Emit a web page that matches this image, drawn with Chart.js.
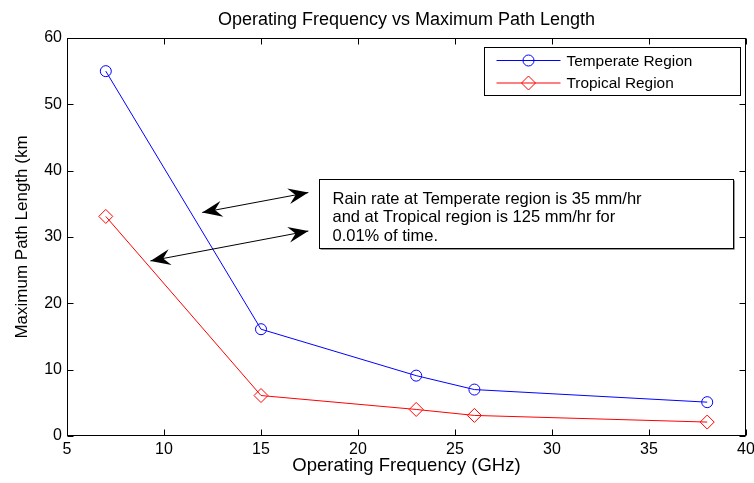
<!DOCTYPE html>
<html>
<head>
<meta charset="utf-8">
<script src="https://cdn.jsdelivr.net/npm/chart.js@4"></script>
<style>
  html, body { margin: 0; padding: 0; background: #fff; }
  #wrap { width: 754px; height: 483px; }
</style>
</head>
<body>
<div id="wrap"><canvas id="chart" width="754" height="483"></canvas></div>
<script>
// chart values
const frequencies = [7, 15, 23, 26, 38];
const temperate = [55, 16.1, 9.1, 7, 5.1];
const tropical = [33.1, 6.1, 4, 3.1, 2.1];
const xTicks = [5, 10, 15, 20, 25, 30, 35, 40];
const yTicks = [0, 10, 20, 30, 40, 50, 60];
const seriesNames = ["Temperate Region", "Tropical Region"];
const seriesColors = ["#0000ff", "#ff0000"];
const noteLines = [
  "Rain rate at Temperate region is 35 mm/hr",
  "and at Tropical region is 125 mm/hr for",
  "0.01% of time."
];
// annotation anchors, in axis units
const noteBox = { x1: 17.97, y1: 38.7, x2: 39.29, y2: 28.3 };
const arrows = [
  { x1: 11.97, y1: 33.7, x2: 17.44, y2: 36.7 },
  { x1: 9.30, y1: 26.4, x2: 17.44, y2: 30.9 }
];

const FONT = "'Liberation Sans', Arial, Helvetica, sans-serif";

function toPoints(xs, ys) {
  return xs.map((x, i) => ({ x: x, y: ys[i] }));
}

function arrowHead(ctx, tx, ty, fx, fy) {
  // tip at (tx,ty), pointing away from (fx,fy)
  const ang = Math.atan2(ty - fy, tx - fx);
  const len = 20, half = 8, notch = 13;
  const c = Math.cos(ang), s = Math.sin(ang);
  ctx.beginPath();
  ctx.moveTo(tx, ty);
  ctx.lineTo(tx - len * c + half * s, ty - len * s - half * c);
  ctx.lineTo(tx - notch * c, ty - notch * s);
  ctx.lineTo(tx - len * c - half * s, ty - len * s + half * c);
  ctx.closePath();
  ctx.fill();
}

const decorPlugin = {
  id: "decor",
  afterDraw(chart) {
    const ctx = chart.ctx;
    const a = chart.chartArea;
    const xs = chart.scales.x, ys = chart.scales.y;
    const L = Math.round(a.left) + 0.5, R = Math.round(a.right) - 0.5;
    const T = Math.round(a.top) + 0.5, B = Math.round(a.bottom) - 0.5;
    ctx.save();

    // frame + inward ticks
    ctx.strokeStyle = "#000";
    ctx.lineWidth = 1;
    ctx.strokeRect(L, T, R - L, B - T);
    ctx.beginPath();
    xTicks.forEach(v => {
      const px = Math.round(xs.getPixelForValue(v)) + 0.5;
      ctx.moveTo(px, B); ctx.lineTo(px, B - 6);
      ctx.moveTo(px, T); ctx.lineTo(px, T + 6);
    });
    yTicks.forEach(v => {
      const py = Math.round(ys.getPixelForValue(v)) + 0.5;
      ctx.moveTo(L, py); ctx.lineTo(L + 6, py);
      ctx.moveTo(R, py); ctx.lineTo(R - 6, py);
    });
    ctx.stroke();

    // title
    ctx.fillStyle = "#000";
    ctx.font = "18px " + FONT;
    ctx.textAlign = "center";
    ctx.textBaseline = "middle";
    ctx.fillText("Operating Frequency vs Maximum Path Length", (a.left + a.right) / 2, 20);

    // note box
    const bx1 = xs.getPixelForValue(noteBox.x1), by1 = ys.getPixelForValue(noteBox.y1);
    const bx2 = xs.getPixelForValue(noteBox.x2), by2 = ys.getPixelForValue(noteBox.y2);
    const bl = Math.round(bx1) + 0.5, bt = Math.round(by1) + 0.5;
    const bw = Math.round(bx2 - bx1), bh = Math.round(by2 - by1);
    ctx.strokeStyle = "#999";
    ctx.beginPath();
    ctx.moveTo(bl + bw + 1, bt + 1); ctx.lineTo(bl + bw + 1, bt + bh + 1); ctx.lineTo(bl + 1, bt + bh + 1);
    ctx.stroke();
    ctx.fillStyle = "#fff";
    ctx.fillRect(bl, bt, bw, bh);
    ctx.strokeStyle = "#000";
    ctx.strokeRect(bl, bt, bw, bh);
    ctx.fillStyle = "#000";
    ctx.font = "16.5px " + FONT;
    ctx.textAlign = "left";
    noteLines.forEach((t, i) => ctx.fillText(t, bl + 13, bt + 20 + i * 18.3));

    // arrows
    ctx.strokeStyle = "#000";
    ctx.fillStyle = "#000";
    arrows.forEach(ar => {
      const x1 = xs.getPixelForValue(ar.x1), y1 = ys.getPixelForValue(ar.y1);
      const x2 = xs.getPixelForValue(ar.x2), y2 = ys.getPixelForValue(ar.y2);
      ctx.beginPath();
      ctx.moveTo(x1, y1); ctx.lineTo(x2, y2);
      ctx.stroke();
      arrowHead(ctx, x1, y1, x2, y2);
      arrowHead(ctx, x2, y2, x1, y1);
    });

    // legend
    const lx = 484.5, ly = 47.5, lw = 256, lh = 48;
    ctx.fillStyle = "#fff";
    ctx.fillRect(lx, ly, lw, lh);
    ctx.strokeStyle = "#000";
    ctx.strokeRect(lx, ly, lw, lh);
    ctx.font = "15.4px " + FONT;
    chart.data.datasets.forEach((ds, i) => {
      const rowY = 60.5 + i * 22.5;
      ctx.strokeStyle = ds.borderColor;
      ctx.beginPath();
      ctx.moveTo(lx + 12, rowY); ctx.lineTo(lx + 76, rowY);
      ctx.stroke();
      ctx.fillStyle = "rgba(0,0,0,0)";
      Chart.helpers.drawPoint(ctx, {
        pointStyle: ds.pointStyle, radius: ds.pointRadius, borderWidth: 1, rotation: 0
      }, lx + 44, rowY);
      ctx.fillStyle = "#000";
      ctx.fillText(ds.label, lx + 82, rowY + 1);
    });
    ctx.restore();
  }
};

new Chart(document.getElementById("chart"), {
  type: "scatter",
  data: {
    datasets: [
      {
        label: seriesNames[0],
        data: toPoints(frequencies, temperate),
        borderColor: seriesColors[0],
        backgroundColor: "rgba(0,0,0,0)",
        showLine: true,
        borderWidth: 1,
        pointStyle: "circle",
        pointRadius: 5.5,
        pointBorderWidth: 1
      },
      {
        label: seriesNames[1],
        data: toPoints(frequencies, tropical),
        borderColor: seriesColors[1],
        backgroundColor: "rgba(0,0,0,0)",
        showLine: true,
        borderWidth: 1,
        pointStyle: "rectRot",
        pointRadius: 7,
        pointBorderWidth: 1
      }
    ]
  },
  options: {
    responsive: false,
    animation: false,
    layout: { padding: { top: 38, right: 6, left: 0, bottom: 0 } },
    plugins: {
      legend: { display: false },
      tooltip: { enabled: false },
      title: { display: false }
    },
    scales: {
      x: {
        type: "linear",
        min: 5,
        max: 40,
        afterBuildTicks: s => { s.ticks = xTicks.map(v => ({ value: v })); },
        afterFit: s => { s.height = 47; s.paddingLeft = 0; s.paddingRight = 0; },
        grid: { display: false, drawTicks: false },
        border: { display: false },
        ticks: { color: "#000", padding: 4, maxRotation: 0, font: { size: 16, family: FONT } },
        title: {
          display: true,
          text: "Operating Frequency (GHz)",
          color: "#000",
          font: { size: 18.5, family: FONT },
          padding: { top: 0, bottom: 6 }
        }
      },
      y: {
        type: "linear",
        min: 0,
        max: 60,
        afterBuildTicks: s => { s.ticks = yTicks.map(v => ({ value: v })); },
        afterFit: s => { s.width = 67; s.paddingTop = 0; s.paddingBottom = 0; },
        grid: { display: false, drawTicks: false },
        border: { display: false },
        ticks: { color: "#000", padding: 5, font: { size: 16, family: FONT } },
        title: {
          display: true,
          text: "Maximum Path Length (km",
          color: "#000",
          font: { size: 17, family: FONT },
          padding: { top: 12, bottom: 0 }
        }
      }
    }
  },
  plugins: [decorPlugin]
});
</script>
</body>
</html>
